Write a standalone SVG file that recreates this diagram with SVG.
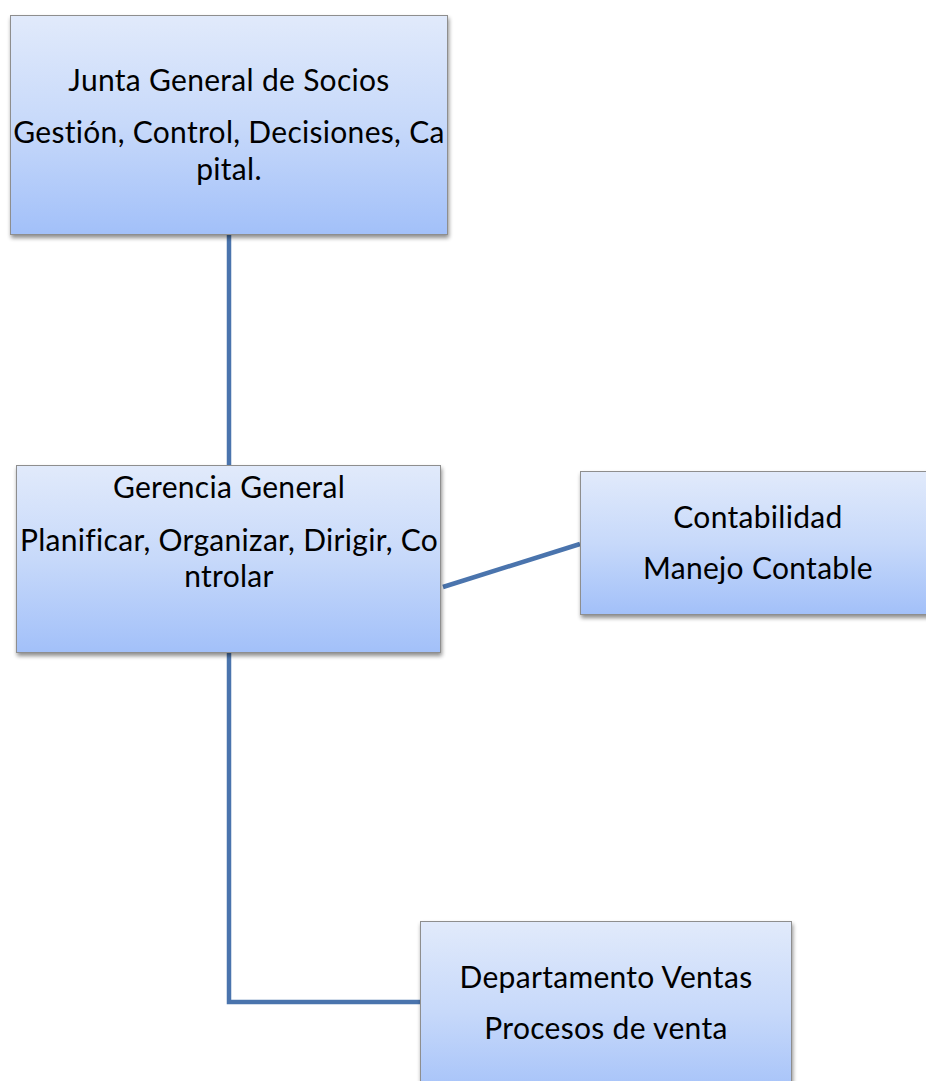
<svg xmlns="http://www.w3.org/2000/svg" width="926" height="1081" viewBox="0 0 926 1081">
<defs>
<linearGradient id="g" x1="0" y1="0" x2="0" y2="1">
<stop offset="0" stop-color="#e1eafb"/>
<stop offset="0.5" stop-color="#c7d9fa"/>
<stop offset="1" stop-color="#a2c0f9"/>
</linearGradient>
<filter id="sh" x="-5%" y="-5%" width="115%" height="120%">
<feGaussianBlur in="SourceAlpha" stdDeviation="2"/>
<feOffset dx="1" dy="3" result="b"/>
<feComponentTransfer><feFuncA type="linear" slope="0.45"/></feComponentTransfer>
<feMerge><feMergeNode/><feMergeNode in="SourceGraphic"/></feMerge>
</filter>
</defs>
<style>
.box{fill:url(#g);stroke:#8e8e8e;stroke-width:1;filter:url(#sh)}
.t{font-family:Lato,"Open Sans","Liberation Sans",sans-serif;font-size:30px;fill:#000;text-anchor:middle;font-variant-ligatures:none;letter-spacing:0.3px}
.c{fill:none;stroke:#4a74ad;stroke-width:4.5}
</style>
<g id="connectors">
<path class="c" d="M229,235 V465"/>
<path class="c" d="M443,587 L580,544"/>
<path class="c" d="M229,653 V1002 H420"/>
</g>
<g id="junta">
<rect class="box" x="10.5" y="15.5" width="437" height="219"/>
<text class="t" x="229" y="91">Junta General de Socios</text>
<text class="t" x="229" y="143">Gestión, Control, Decisiones, Ca</text>
<text class="t" x="229" y="180">pital.</text>
</g>
<g id="gerencia">
<rect class="box" x="16.5" y="465.5" width="424" height="187"/>
<text class="t" x="229" y="498">Gerencia General</text>
<text class="t" x="229" y="551">Planificar, Organizar, Dirigir, Co</text>
<text class="t" x="229" y="587">ntrolar</text>
</g>
<g id="contabilidad">
<rect class="box" x="580.5" y="471.5" width="360" height="143"/>
<text class="t" x="758" y="528">Contabilidad</text>
<text class="t" x="758" y="579">Manejo Contable</text>
</g>
<g id="ventas">
<rect class="box" x="420.5" y="921.5" width="371" height="180"/>
<text class="t" x="606" y="988">Departamento Ventas</text>
<text class="t" x="606" y="1039">Procesos de venta</text>
</g>
</svg>
